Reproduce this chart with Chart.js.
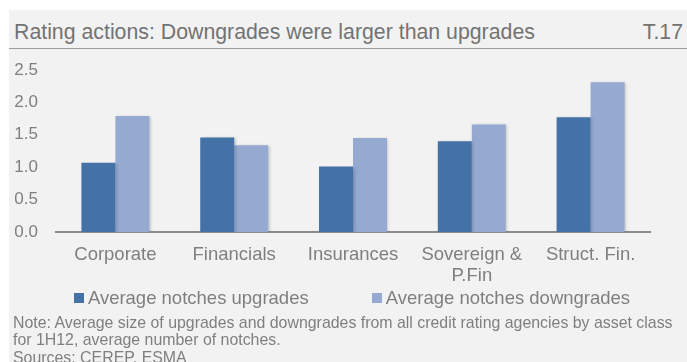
<!DOCTYPE html>
<html>
<head>
<meta charset="utf-8">
<script src="https://cdn.jsdelivr.net/npm/chart.js@4/dist/chart.umd.min.js"></script>
<style>
  html, body { margin: 0; padding: 0; background: #ffffff; }
  body { width: 687px; height: 362px; position: relative; overflow: hidden;
         font-family: "Liberation Sans", Arial, sans-serif; }
  #panel { position: absolute; left: 9px; top: 10px; width: 678px; height: 352px; background: #f2f2f2; }
  #rule { position: absolute; left: 9px; top: 48px; width: 678px; height: 1px; background: #9e9e9e; }
  .title { position: absolute; top: 20px; font-size: 21.3px; line-height: 24px; color: #737373; white-space: nowrap; }
  #title { left: 14px; }
  #tag { right: 4px; }
  #chart { position: absolute; left: 0; top: 0; }
  #legend { position: absolute; left: 0; width: 704px; top: 288px; display: flex; justify-content: center;
            font-size: 18.5px; line-height: 20px; color: #7f7f7f; white-space: nowrap; }
  #legend .item { display: flex; align-items: center; }
  #legend .item + .item { margin-left: 63px; }
  #legend .swatch { width: 10px; height: 10px; margin-right: 4px; }
  #note { position: absolute; left: 13px; top: 314px; font-size: 15.9px; line-height: 17.4px; color: #7f7f7f; white-space: nowrap; }
</style>
</head>
<body>
<div id="panel"></div>
<div id="rule"></div>
<div id="title" class="title">Rating actions: Downgrades were larger than upgrades</div>
<div id="tag" class="title">T.17</div>
<canvas id="chart" width="687" height="362"></canvas>
<div id="legend"></div>
<div id="note">Note: Average size of upgrades and downgrades from all credit rating agencies by asset class<br>for 1H12, average number of notches.<br>Sources: CEREP, ESMA</div>
<script>
// Asset classes and average rating-change size (notches), 1H12
const categories = ['Corporate', 'Financials', 'Insurances', ['Sovereign &', 'P.Fin'], 'Struct. Fin.'];
const upgrades   = [1.07, 1.46, 1.01, 1.40, 1.77];
const downgrades = [1.79, 1.34, 1.45, 1.66, 2.31];
const seriesNames = ['Average notches upgrades', 'Average notches downgrades'];
const yTicks = [0, 0.5, 1.0, 1.5, 2.0, 2.5];

const DARK = '#4472a6';
const LIGHT = '#95a9d1';
const TEXT = '#7f7f7f';
const FONT = '"Liberation Sans", Arial, sans-serif';

// Soft drop shadow under the bars
const barShadow = {
  id: 'barShadow',
  beforeDatasetsDraw(chart) {
    const ctx = chart.ctx;
    ctx.save();
    ctx.shadowColor = 'rgba(0,0,0,0.22)';
    ctx.shadowBlur = 3;
    ctx.shadowOffsetX = 1.5;
    ctx.shadowOffsetY = 1;
  },
  afterDatasetsDraw(chart) { chart.ctx.restore(); }
};

// Legend rendered as HTML from the chart's own legend items
const htmlLegend = {
  id: 'htmlLegend',
  afterUpdate(chart) {
    const box = document.getElementById('legend');
    box.innerHTML = '';
    chart.options.plugins.legend.labels.generateLabels(chart).forEach(item => {
      const el = document.createElement('div');
      el.className = 'item';
      const sw = document.createElement('span');
      sw.className = 'swatch';
      sw.style.background = item.fillStyle;
      const tx = document.createElement('span');
      tx.textContent = item.text;
      el.appendChild(sw);
      el.appendChild(tx);
      box.appendChild(el);
    });
  }
};

new Chart(document.getElementById('chart'), {
  type: 'bar',
  data: {
    labels: categories,
    datasets: [
      { label: seriesNames[0], data: upgrades, backgroundColor: DARK },
      { label: seriesNames[1], data: downgrades, backgroundColor: LIGHT }
    ]
  },
  options: {
    responsive: false,
    animation: false,
    events: [],
    layout: { padding: { top: 70, right: 37, bottom: 70, left: 0 } },
    datasets: { bar: { barPercentage: 1.0, categoryPercentage: 0.572 } },
    plugins: {
      legend: { display: false },
      tooltip: { enabled: false }
    },
    scales: {
      x: {
        grid: { display: false, drawTicks: false },
        border: { display: true, color: '#8c8c8c', width: 2 },
        ticks: { color: TEXT, padding: 12, maxRotation: 0, autoSkip: false,
                 font: { family: FONT, size: 18.5, lineHeight: 1.135 } },
        afterFit(scale) { scale.height = 60; }
      },
      y: {
        min: 0, max: 2.5,
        afterBuildTicks(scale) { scale.ticks = yTicks.map(v => ({ value: v })); },
        grid: { display: false, drawTicks: false },
        border: { display: false },
        ticks: { color: TEXT, padding: 18,
                 font: { family: FONT, size: 17 },
                 callback: v => Number(v).toFixed(1) },
        afterFit(scale) { scale.width = 56; }
      }
    }
  },
  plugins: [barShadow, htmlLegend]
});
</script>
</body>
</html>
